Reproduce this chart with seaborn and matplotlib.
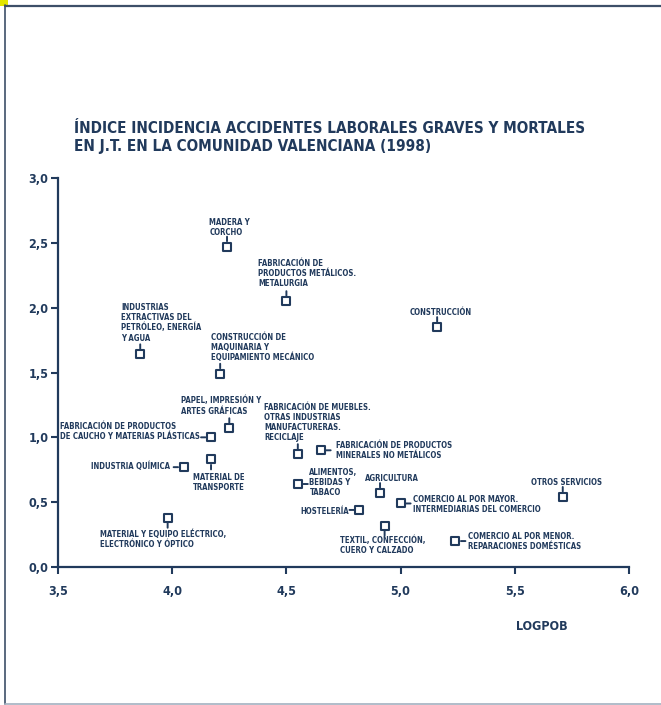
import matplotlib
matplotlib.use("Agg")
import matplotlib.pyplot as plt
from matplotlib import font_manager
from matplotlib.patches import Rectangle
from matplotlib.lines import Line2D
import seaborn as sns
import pandas as pd

# ---------------- data ----------------
sectors = [
    "MADERA Y\nCORCHO",
    "FABRICACIÓN DE\nPRODUCTOS METÁLICOS.\nMETALURGIA",
    "INDUSTRIAS\nEXTRACTIVAS DEL\nPETRÓLEO, ENERGÍA\nY AGUA",
    "CONSTRUCCIÓN DE\nMAQUINARIA Y\nEQUIPAMIENTO MECÁNICO",
    "CONSTRUCCIÓN",
    "PAPEL, IMPRESIÓN Y\nARTES GRÁFICAS",
    "FABRICACIÓN DE PRODUCTOS\nDE CAUCHO Y MATERIAS PLÁSTICAS",
    "INDUSTRIA QUÍMICA",
    "MATERIAL DE\nTRANSPORTE",
    "MATERIAL Y EQUIPO ELÉCTRICO,\nELECTRÓNICO Y ÓPTICO",
    "FABRICACIÓN DE MUEBLES.\nOTRAS INDUSTRIAS\nMANUFACTURERAS.\nRECICLAJE",
    "FABRICACIÓN DE PRODUCTOS\nMINERALES NO METÁLICOS",
    "ALIMENTOS,\nBEBIDAS Y\nTABACO",
    "HOSTELERÍA",
    "AGRICULTURA",
    "COMERCIO AL POR MAYOR.\nINTERMEDIARIAS DEL COMERCIO",
    "TEXTIL, CONFECCIÓN,\nCUERO Y CALZADO",
    "COMERCIO AL POR MENOR.\nREPARACIONES DOMÉSTICAS",
    "OTROS SERVICIOS",
]
logpob = [4.24, 4.50, 3.86, 4.21, 5.16, 4.25, 4.17, 4.05, 4.17, 3.98,
          4.55, 4.65, 4.55, 4.82, 4.91, 5.00, 4.93, 5.24, 5.71]
indice = [2.47, 2.05, 1.64, 1.49, 1.85, 1.07, 1.00, 0.77, 0.83, 0.38,
          0.87, 0.90, 0.64, 0.44, 0.57, 0.49, 0.32, 0.20, 0.54]

x_ticks = [3.5, 4.0, 4.5, 5.0, 5.5, 6.0]
y_ticks = [0.0, 0.5, 1.0, 1.5, 2.0, 2.5, 3.0]
x_tick_labels = ["3,5", "4,0", "4,5", "5,0", "5,5", "6,0"]
y_tick_labels = ["0,0", "0,5", "1,0", "1,5", "2,0", "2,5", "3,0"]

title = ("ÍNDICE INCIDENCIA ACCIDENTES LABORALES GRAVES Y MORTALES\n"
         "EN J.T. EN LA COMUNIDAD VALENCIANA (1998)")
xlabel = "LOGPOB"

# label layout: (ha, dx px, dy px [up], stub direction)
layout = [
    ("left", -17.7, 19.3, "up"),
    ("left", -28.3, 27.4, "up"),
    ("left", -19.3, 31.7, "up"),
    ("left", -9.0, 26.2, "up"),
    ("center", 3.6, 15.0, "up"),
    ("left", -48.3, 22.5, "up"),
    ("right", -11.4, 5.5, "left"),
    ("right", -13.3, 1.3, "left"),
    ("left", -18.4, -23.4, "down"),
    ("left", -67.3, -21.7, "down"),
    ("left", -33.4, 31.5, "up"),
    ("left", 15.7, -0.6, "right"),
    ("left", 11.6, 1.1, "right"),
    ("right", -10.0, -1.4, "left"),
    ("left", -15.0, 15.0, "up"),
    ("left", 12.4, -0.9, "right"),
    ("left", -44.3, -20.0, "down"),
    ("left", 12.7, 0.0, "right"),
    ("center", 3.5, 14.6, "up"),
]

# ---------------- style ----------------
sns.set_style("white")
avail = {f.name for f in font_manager.fontManager.ttflist}
if "Liberation Sans Narrow" in avail:
    FAM = ["Liberation Sans Narrow", "DejaVu Sans"]
    STRETCH = "normal"
else:
    FAM = ["DejaVu Sans"]
    STRETCH = "condensed"
plt.rcParams["font.family"] = FAM

NAVY = "#213a5c"
W, H = 661, 705
fig = plt.figure(figsize=(W / 100, H / 100), dpi=100)
ax = fig.add_axes([58 / W, 1 - 567 / H, (629 - 58) / W, (567 - 178) / H])

df = pd.DataFrame({"LOGPOB": logpob, "INDICE": indice, "SECTOR": sectors})
sns.scatterplot(data=df, x="LOGPOB", y="INDICE", marker="s", s=34,
                facecolor="white", edgecolor=NAVY, linewidth=1.5,
                ax=ax, zorder=5, legend=False)

ax.set_xlim(3.5, 6.0)
ax.set_ylim(0.0, 3.0)
ax.set_xticks(x_ticks)
ax.set_xticklabels(x_tick_labels)
ax.set_yticks(y_ticks)
ax.set_yticklabels(y_tick_labels)
for lab in ax.get_xticklabels() + ax.get_yticklabels():
    lab.set_fontweight("bold")
    lab.set_fontsize(9)
    lab.set_color(NAVY)
    lab.set_fontstretch(STRETCH)
ax.tick_params(axis="both", direction="out", length=5, width=1.5,
               color=NAVY, bottom=True, left=True)
ax.tick_params(axis="x", pad=8)
ax.tick_params(axis="y", pad=2)
for side in ["top", "right"]:
    ax.spines[side].set_visible(False)
for side in ["left", "bottom"]:
    ax.spines[side].set_color(NAVY)
    ax.spines[side].set_linewidth(1.6)
ax.set_xlabel("")
ax.set_ylabel("")
ax.patch.set_alpha(0)

# labels + stubs
stub_vec = {"up": (0, 10), "down": (0, -10), "left": (-10, 0), "right": (10, 0)}
for x, y, text, (ha, dx, dy, sd) in zip(logpob, indice, sectors, layout):
    ax.annotate(text, xy=(x, y), xytext=(dx, dy), textcoords="offset pixels",
                ha=ha, va="center", multialignment="left",
                fontsize=5.6, fontweight="bold", color=NAVY,
                fontstretch=STRETCH, linespacing=1.15, zorder=6)
    ax.annotate("", xy=(x, y), xytext=stub_vec[sd], textcoords="offset pixels",
                arrowprops=dict(arrowstyle="-", color=NAVY, lw=1.4,
                                shrinkA=0, shrinkB=4.0),
                zorder=4)

# title and axis label
fig.text(74 / W, 1 - 121 / H, title, ha="left", va="top", fontsize=11.0,
         fontweight="bold", color=NAVY, linespacing=1.22, fontstretch=STRETCH)
fig.text(542 / W, 1 - 626 / H, xlabel, ha="center", va="center",
         fontsize=9, fontweight="bold", color=NAVY, fontstretch=STRETCH)

# frame and corner mark
fig.add_artist(Line2D([5 / W, 1.0], [1 - 5.5 / H, 1 - 5.5 / H],
                      transform=fig.transFigure, color="#3d4f68", lw=1.6))
fig.add_artist(Line2D([4.5 / W, 4.5 / W], [1 - 5 / H, 1 - 703.5 / H],
                      transform=fig.transFigure, color="#3d4f68", lw=1.2))
fig.add_artist(Line2D([4.5 / W, 1.0], [1 - 703.5 / H, 1 - 703.5 / H],
                      transform=fig.transFigure, color="#a3b0c0", lw=1.2))
fig.add_artist(Rectangle((0, 1 - 6 / H), 8 / W, 6 / H, transform=fig.transFigure,
                         facecolor="#e3e600", edgecolor="none"))

fig.savefig("out.png", dpi=100)
